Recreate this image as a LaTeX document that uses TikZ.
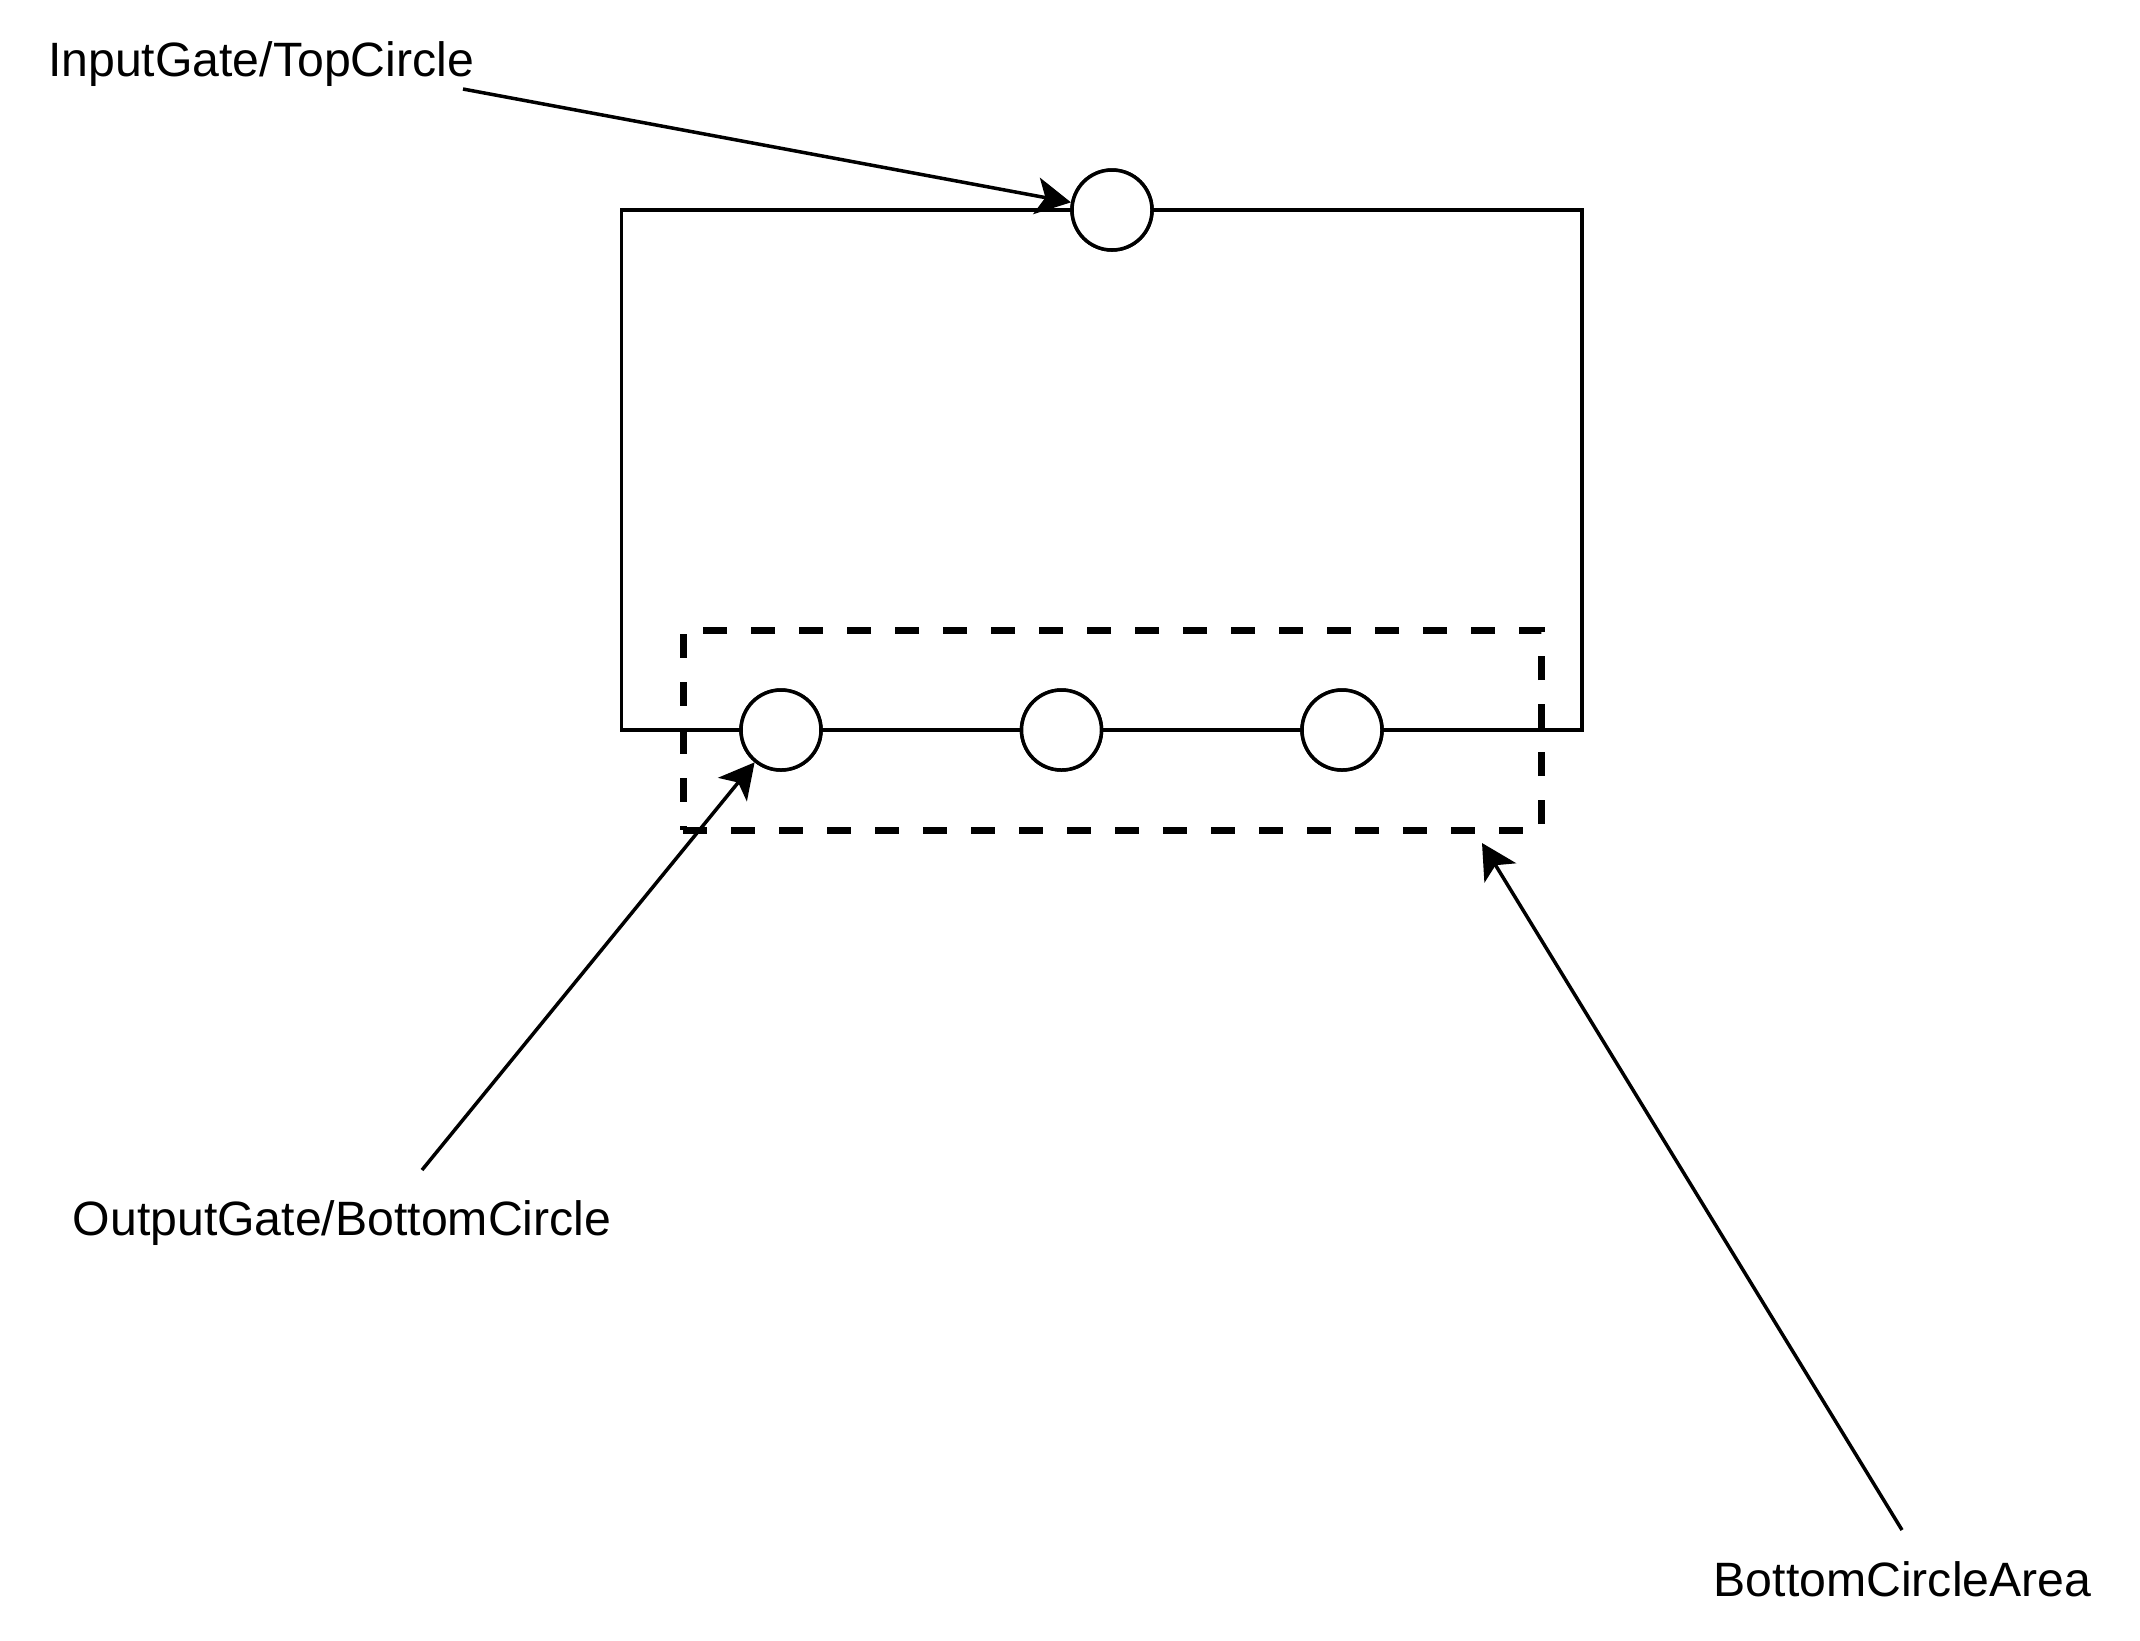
\documentclass[tikz,border=0pt]{standalone}
\usepackage{fontspec}
\setmainfont{Liberation Sans}
\usetikzlibrary{arrows.meta}
\begin{document}
\begin{tikzpicture}[x=0.5pt,y=-0.5pt,
  wire/.style={line width=1.75pt,line cap=rect},
  gate/.style={circle,draw,line width=1.75pt,fill=white,minimum size=40pt,inner sep=0pt},
  area/.style={draw,line width=3.5pt,dash pattern=on 12pt off 12pt,minimum width=429pt,minimum height=100pt,inner sep=0pt},
  lbl/.style={font=\fontsize{24.1}{28}\selectfont,anchor=base,inner sep=0pt},
  pointer/.style={line width=1.75pt,-{Stealth[length=17.5pt,width=18.5pt,inset=4.5pt]}}]
\useasboundingbox (0,0) rectangle (2140,1640);
% frame corners
\coordinate (tl) at (621.5,210);
\coordinate (tr) at (1582,210);
\coordinate (br) at (1582,730);
\coordinate (bl) at (621.5,730);
% gates
\node[gate] (top) at (1112,210) {};
\node[gate] (b1) at (781,730) {};
\node[gate] (b2) at (1061.5,730) {};
\node[gate] (b3) at (1342,730) {};
% frame wires
\draw[wire] (tl) -- (top.west);
\draw[wire] (top.east) -- (tr) -- (br) -- (b3.east);
\draw[wire] (b3.west) -- (b2.east);
\draw[wire] (b2.west) -- (b1.east);
\draw[wire] (b1.west) -- (bl) -- (tl);
% dashed area
\node[area] (zone) at (1112,730) {};
% redraw gates above
\node[gate] at (top) {};
\node[gate] at (b1) {};
\node[gate] at (b2) {};
\node[gate] at (b3) {};
% labels
\node[lbl] (lin) at (261,76) {InputGate/TopCircle};
\node[lbl] (lout) at (342,1235) {OutputGate/BottomCircle};
\node[lbl] (lzone) at (1902.5,1596) {BottomCircleArea};
% pointer ends
\coordinate (sin) at (463,89);
\coordinate (sout) at (422,1170);
\coordinate (szone) at (1902,1530);
\coordinate (tzone) at (1482,843);
\draw[pointer] (sin) -- (top);
\draw[pointer] (sout) -- (b1);
\draw[pointer] (szone) -- (tzone);
\end{tikzpicture}
\end{document}
